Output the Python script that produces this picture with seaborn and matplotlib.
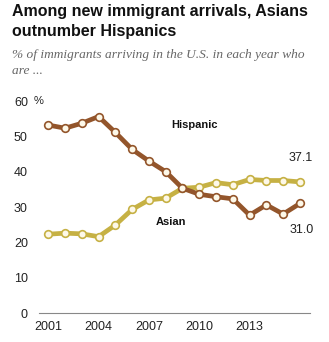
import matplotlib
matplotlib.use("Agg")
import matplotlib.pyplot as plt
import seaborn as sns
import pandas as pd

years = list(range(2001, 2017))
hispanic = [53.2, 52.3, 53.7, 55.6, 51.1, 46.3, 43.0, 40.0, 35.3, 33.6, 32.9, 32.3, 27.7, 30.6, 28.0, 31.0]
asian = [22.3, 22.6, 22.4, 21.6, 24.9, 29.3, 32.0, 32.5, 35.3, 35.6, 36.9, 36.3, 37.8, 37.5, 37.5, 37.1]
xticks = [2001, 2004, 2007, 2010, 2013]
yticks = [0, 10, 20, 30, 40, 50, 60]

title = "Among new immigrant arrivals, Asians\noutnumber Hispanics"
subtitle = "% of immigrants arriving in the U.S. in each year who\nare ..."

df = pd.DataFrame({
    "year": years * 2,
    "share": hispanic + asian,
    "group": ["Hispanic"] * len(years) + ["Asian"] * len(years),
})

sns.set_theme(style="white")
plt.rcParams["font.family"] = ["Liberation Sans", "DejaVu Sans"]

colors = {"Hispanic": "#93552b", "Asian": "#c6b144"}

fig = plt.figure(figsize=(3.29, 3.42), dpi=100)
ax = fig.add_axes([39 / 329, 29 / 342, 271 / 329, 212 / 342])

sns.lineplot(data=df, x="year", y="share", hue="group", palette=colors,
             linewidth=3.4, marker="o", markersize=5.5, markerfacecolor="#fdf8e8",
             markeredgewidth=1.2, legend=False, ax=ax, clip_on=False,
             hue_order=["Asian", "Hispanic"])
for line in ax.lines:
    line.set_markeredgecolor(line.get_color())

ax.set_xlim(2000.45, 2016.6)
ax.set_ylim(0, 60)
ax.set_xticks(xticks)
ax.set_yticks(yticks)
ax.set_xlabel("")
ax.set_ylabel("")
for s in ["left", "top", "right"]:
    ax.spines[s].set_visible(False)
ax.spines["bottom"].set_color("#888888")
ax.spines["bottom"].set_linewidth(0.8)
ax.tick_params(axis="both", length=0, labelsize=9, colors="#222222")
ax.tick_params(axis="y", pad=8)
ax.tick_params(axis="x", pad=6)

fig.text(34 / 329, 1 - 101 / 342, "%", fontsize=8, color="#222222", va="center", ha="left")

ax.text(2009.7, 53.2, "Hispanic", fontsize=8, fontweight="bold", color="#111111", ha="center", va="center")
ax.text(2008.3, 25.8, "Asian", fontsize=8, fontweight="bold", color="#111111", ha="center", va="center")
ax.text(2016.07, 43.9, "37.1", fontsize=9, color="#222222", ha="center", va="center")
ax.text(2016.1, 23.5, "31.0", fontsize=9, color="#222222", ha="center", va="center")

fig.text(12 / 329, 1 - 4 / 342, title, fontsize=11.5, fontweight="bold", color="#111111",
         ha="left", va="top", linespacing=1.45)
fig.text(12 / 329, 1 - 49 / 342, subtitle, fontsize=9.6, style="italic", color="#666666",
         ha="left", va="top", family=["Liberation Serif", "DejaVu Serif"], linespacing=1.4)

fig.savefig("out.png", dpi=100, facecolor="white")
